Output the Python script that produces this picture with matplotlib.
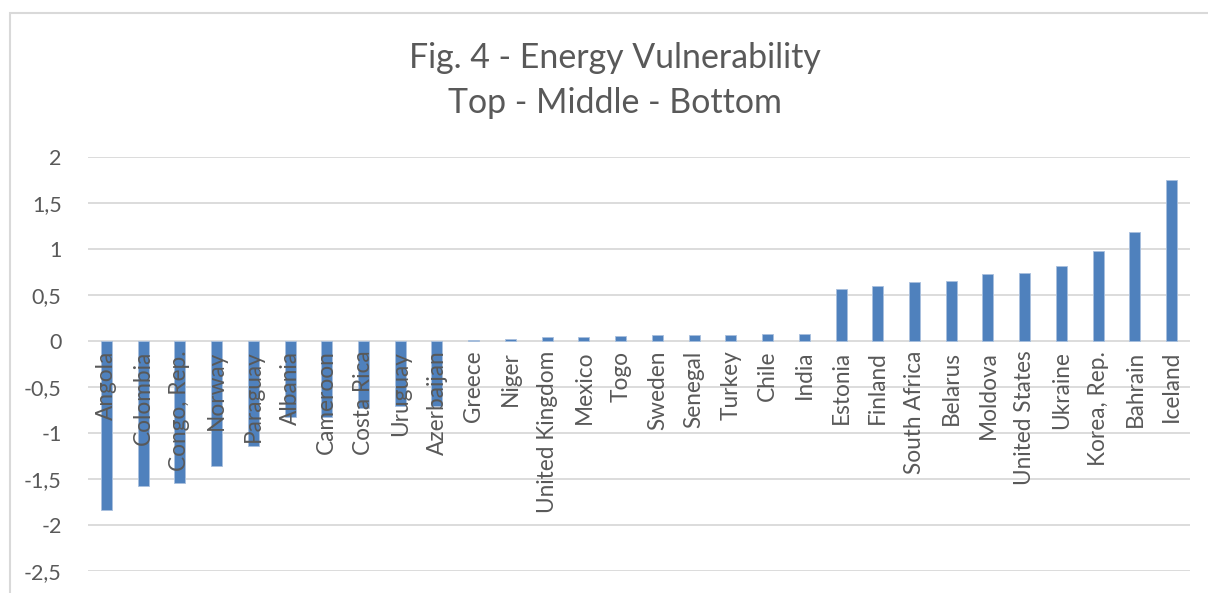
import matplotlib
matplotlib.use("Agg")
import matplotlib.pyplot as plt
from matplotlib.patches import Rectangle
from matplotlib.ticker import FuncFormatter, MultipleLocator

countries = ["Angola", "Colombia", "Congo, Rep.", "Norway", "Paraguay", "Albania",
             "Cameroon", "Costa Rica", "Uruguay", "Azerbaijan", "Greece", "Niger",
             "United Kingdom", "Mexico", "Togo", "Sweden", "Senegal", "Turkey",
             "Chile", "India", "Estonia", "Finland", "South Africa", "Belarus",
             "Moldova", "United States", "Ukraine", "Korea, Rep.", "Bahrain", "Iceland"]
values = [-1.84, -1.58, -1.54, -1.36, -1.14, -0.83, -0.83, -0.73, -0.71, -0.71,
          0.01, 0.02, 0.04, 0.04, 0.05, 0.06, 0.07, 0.07, 0.08, 0.08,
          0.57, 0.60, 0.64, 0.65, 0.73, 0.74, 0.82, 0.98, 1.18, 1.75]
title_lines = ["Fig. 4 - Energy Vulnerability", "Top - Middle - Bottom"]

W, H = 1208, 593
FONT = ["Lato", "DejaVu Sans"]
GRAY = "#595959"
BLUE = "#4f81bd"

fig = plt.figure(figsize=(W / 100, H / 100), dpi=100)
fig.patch.set_facecolor("white")

# outer chart border (left & top visible)
fig.add_artist(Rectangle((10 / W, -0.1), 1.2, (H - 13) / H + 0.1,
                         transform=fig.transFigure, fill=False,
                         edgecolor="#d9d9d9", linewidth=1.5))

left, right = 88 / W, 1190 / W
top, bottom = 1 - 157 / H, 1 - 571 / H
ax = fig.add_axes([left, bottom, right - left, top - bottom])

ax.set_xlim(-0.5, len(countries) - 0.5)
ax.set_ylim(-2.5, 2)
ax.yaxis.set_major_locator(MultipleLocator(0.5))
ax.yaxis.set_major_formatter(FuncFormatter(
    lambda v, p: ("%g" % round(v, 2)).replace(".", ",")))

# gridlines behind the bars, tick labels drawn above them
for yv in ax.get_yticks():
    if -2.5 <= yv <= 2:
        ax.axhline(yv, color="#d9d9d9", linewidth=1.3, zorder=0.5)

x = list(range(len(countries)))
ax.bar(x, values, width=0.3, color=BLUE, edgecolor="#a9c0de", linewidth=0.6, zorder=1)
ax.set_axisbelow(False)

for s in ["top", "right", "left", "bottom"]:
    ax.spines[s].set_visible(False)
ax.spines["bottom"].set_position(("data", 0))

ax.set_xticks(x)
ax.set_xticklabels(countries, rotation=90, fontsize=16.3, color=GRAY,
                   family=FONT, va="top", ha="center")
ax.tick_params(axis="x", length=0, pad=7)
ax.tick_params(axis="y", length=0, pad=19, labelsize=15.5, labelcolor=GRAY)
for lab in ax.get_yticklabels():
    lab.set_family(FONT)

fig.text(615 / W, 1 - 58 / H, title_lines[0], ha="center", va="center",
         fontsize=24.4, color=GRAY, family=FONT)
fig.text(615 / W, 1 - 103 / H, title_lines[1], ha="center", va="center",
         fontsize=24.4, color=GRAY, family=FONT)

fig.savefig("out.png", dpi=100, facecolor="white")
